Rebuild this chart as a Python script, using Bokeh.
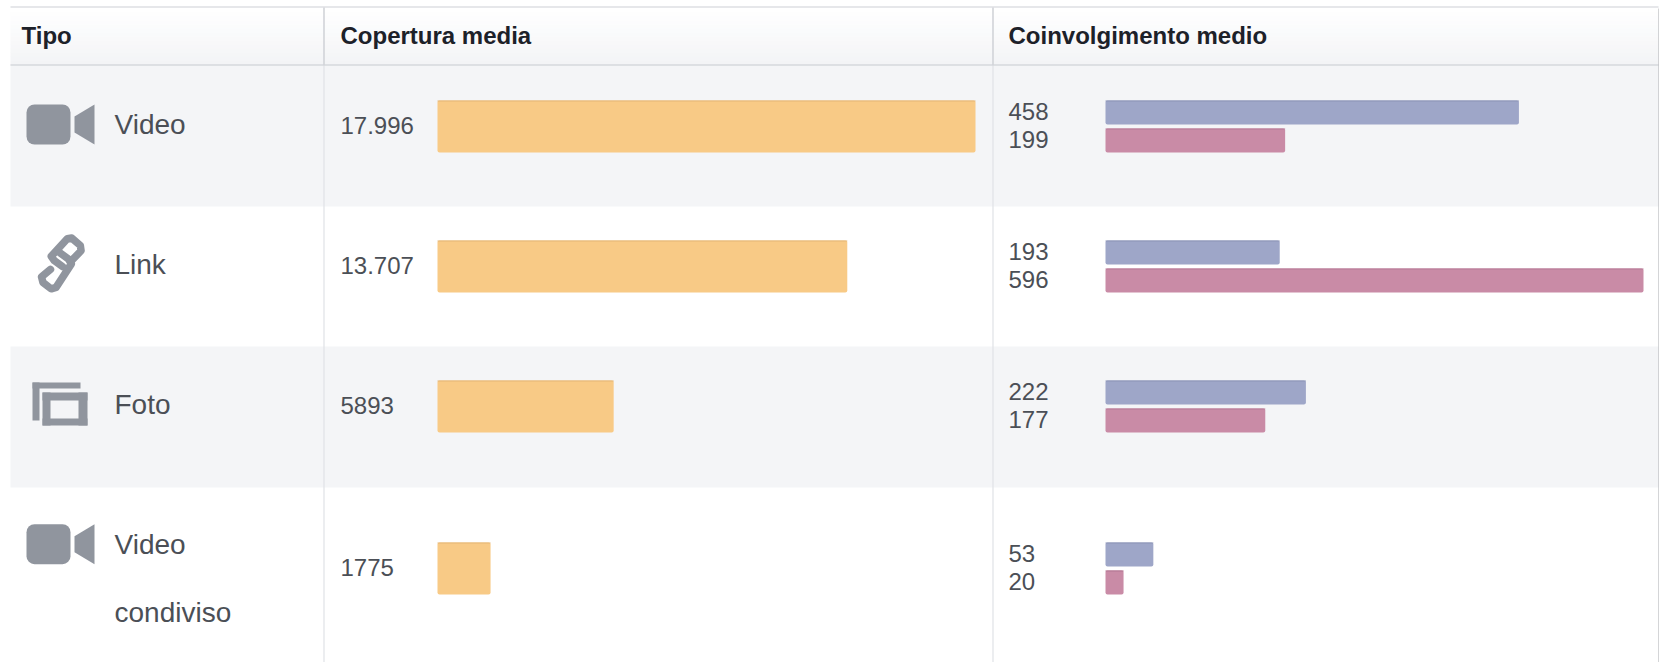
from bokeh.plotting import figure
from bokeh.models import Range1d
from bokeh.core.properties import value
from bokeh.embed import file_html
from bokeh.resources import INLINE

# ---- data ----
types = ["Video", "Link", "Foto", "Video condiviso"]
reach = [17996, 13707, 5893, 1775]
reach_labels = ["17.996", "13.707", "5893", "1775"]
engage_a = [458, 193, 222, 53]
engage_b = [199, 596, 177, 20]
headers = ["Tipo", "Copertura media", "Coinvolgimento medio"]

# ---- layout (page pixels) ----
W, H = 1659, 662
FONT = value("Liberation Sans")
ROW_EDGES = [64.5, 206, 346, 487, 662]
BAR_TOP = [100, 240, 380, 542]
BAR_LEFT_R, BAR_LEFT_E, BAR_SPAN = 437, 1105, 538
ICON = "#90959e"
LINE = "#e0e2e6"

p = figure(width=W, height=H, output_backend="svg", toolbar_location=None,
           x_range=Range1d(0, W), y_range=Range1d(H, 0), min_border=0,
           x_axis_type=None, y_axis_type=None, outline_line_color=None,
           background_fill_color="white", border_fill_color="white",
           margin=(0, 0, 0, 0))
p.grid.visible = False

def span_range(left, maxv):
    k = maxv / BAR_SPAN
    return Range1d(-left * k, (W - left) * k)

p.extra_x_ranges = {"reach": span_range(BAR_LEFT_R, max(reach)),
                    "engage": span_range(BAR_LEFT_E, max(engage_a + engage_b))}

# header gradient
BANDS = 14
for i in range(BANDS):
    t = i / (BANDS - 1)
    c = tuple(round(255 + (v - 255) * t) for v in (243, 244, 246))
    y0 = 7.5 + i * (57 / BANDS)
    p.quad(left=10, right=1658, top=y0, bottom=y0 + 57 / BANDS + .3,
           fill_color="#%02x%02x%02x" % c, line_color=None)

# row stripes
for r in (0, 2):
    p.quad(left=10, right=1658, top=ROW_EDGES[r], bottom=ROW_EDGES[r + 1],
           fill_color="#f4f5f7", line_color=None)

# rules
p.segment(x0=[10], x1=[1658], y0=[6.5], y1=[6.5], line_color="#e6e7ea", line_width=2)
p.segment(x0=[10], x1=[1658], y0=[64.5], y1=[64.5], line_color="#d6d8dc", line_width=1.5)
p.segment(x0=[323.5, 992.5], x1=[323.5, 992.5], y0=[7, 7], y1=[H, H], line_color=LINE, line_width=1.2)
p.segment(x0=[323.5, 992.5], x1=[323.5, 992.5], y0=[7, 7], y1=[65, 65], line_color="#c9cbd0", line_width=1)
p.segment(x0=[1658.5], x1=[1658.5], y0=[8], y1=[H], line_color="#a9abaf", line_width=1)

def bars(right, tops, h, color, edge, rng):
    p.quad(left=[0] * len(right), right=right, top=tops, bottom=[t + h for t in tops],
           fill_color=color, line_color=None, border_radius=2, x_range_name=rng)
    p.segment(x0=[0] * len(right), x1=right, y0=[t + .5 for t in tops], y1=[t + .5 for t in tops],
              line_color=edge, line_width=1.2, x_range_name=rng)

bars(reach, BAR_TOP, 52, "#f8ca86", "#e3b576", "reach")
bars(engage_a, BAR_TOP, 24, "#9ea6c8", "#8c94b6", "engage")
bars(engage_b, [t + 28 for t in BAR_TOP], 24, "#c98ba6", "#b67a95", "engage")

def label(xs, ys, texts, size, color, style="normal"):
    p.text(x=xs, y=ys, text=texts, text_font=FONT, text_font_size=size, text_color=color,
           text_baseline="middle", text_align="left", text_font_style=style)

label([21, 340, 1008], [34.5, 34.5, 34.5], headers, "24px", "#1d2129", "bold")
label([114] * 5, [124, 264, 404, 544, 612],
      [types[0], types[1], types[2], "Video", "condiviso"], "28px", "#4b4f56")
label([340] * 4, [t + 25 for t in BAR_TOP], reach_labels, "24px", "#4b4f56")
label([1008] * 4, [t + 11 for t in BAR_TOP], [str(v) for v in engage_a], "24px", "#4b4f56")
label([1008] * 4, [t + 38.5 for t in BAR_TOP], [str(v) for v in engage_b], "24px", "#4b4f56")

# icons
for dy in (0, 419.7):
    p.quad(left=[26], right=[70], top=[104 + dy], bottom=[144 + dy], fill_color=ICON,
           line_color=None, border_radius=8)
    p.patch(x=[74, 94, 94, 74], y=[116 + dy, 104 + dy, 144 + dy, 132 + dy],
            fill_color=ICON, line_color=None)

def z(pts):
    cx, cy = 110, 115
    return ([25 + (cx + (a - cx) * 1.12) / 3 - .5 for a, b in pts],
            [225 + (cy + (b - cy) * 1.12) / 3 for a, b in pts])

for pts in ([(112, 122), (90, 106), (82, 95), (125, 48), (137, 46), (160, 66), (162, 80), (135, 108)],
            [(106, 86), (128, 102), (136, 115), (95, 178), (82, 182), (60, 165), (56, 150), (80, 130)]):
    xs, ys = z(pts)
    p.line(xs, ys, line_color=ICON, line_width=7.5, line_join="round", line_cap="round")

# photo icon
p.quad(left=[32, 32, 42, 42, 42, 78], right=[80, 39, 87, 87, 50, 87],
       top=[382, 382, 392, 418, 392, 392], bottom=[388, 420, 400, 425, 425, 425],
       fill_color=ICON, line_color=None)

open("out.html", "w").write(file_html(p, INLINE))
